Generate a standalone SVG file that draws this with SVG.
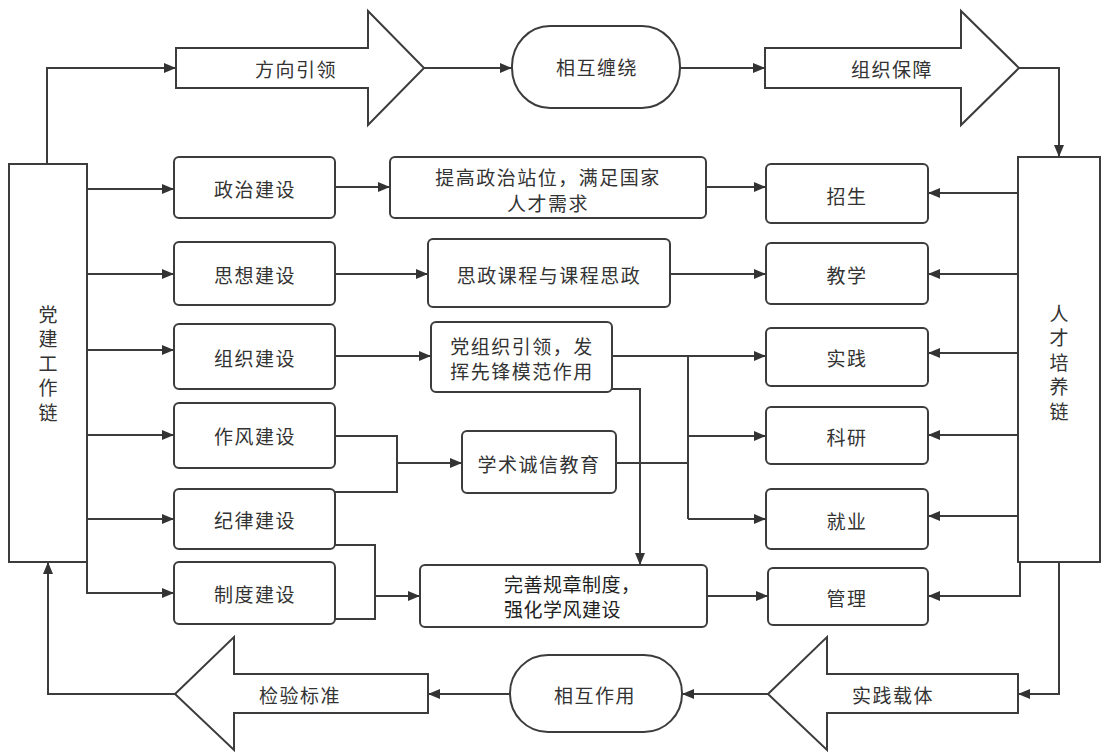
<svg xmlns="http://www.w3.org/2000/svg" width="1103" height="753" viewBox="0 0 1103 753">
<defs>
<marker id="ah" viewBox="0 0 12 10" refX="12" refY="5" markerWidth="12" markerHeight="10" markerUnits="userSpaceOnUse" orient="auto"><path d="M0,0 L12,5 L0,10 z" fill="#333"/></marker>
<style>
.box{fill:#fff;stroke:#3c3c3c;stroke-width:2}
.big{fill:#fff;stroke:#3c3c3c;stroke-width:2;stroke-linejoin:miter}
.t{font-family:"Noto Sans CJK SC","Noto Sans",sans-serif;font-size:19px;fill:#333;text-anchor:middle;dominant-baseline:central;letter-spacing:1.5px}
.v{font-family:"Noto Sans CJK SC","Noto Sans",sans-serif;font-size:19px;fill:#333;writing-mode:vertical-rl;text-anchor:start;letter-spacing:5.5px}
.tl{font-family:"Noto Sans CJK SC","Noto Sans",sans-serif;font-size:19px;fill:#222;dominant-baseline:central;letter-spacing:0.5px}
.c path{fill:none;stroke:#3c3c3c;stroke-width:2}
.a{marker-end:url(#ah)}
</style>
</defs>
<rect width="1103" height="753" fill="#fff"/>

<g class="c" id="connectors">
<path class="a" d="M47,164 V68 H176"/>
<path class="a" d="M424,68 H512"/>
<path class="a" d="M680,68 H765"/>
<path class="a" d="M1019,68 H1059 V157"/>
<path class="a" d="M1059,562 V694 H1018"/>
<path class="a" d="M768,694 H682"/>
<path class="a" d="M510,694 H428"/>
<path class="a" d="M175,694 H48 V562"/>
<path class="a" d="M87,189 H174"/>
<path class="a" d="M87,274 H174"/>
<path class="a" d="M87,350 H174"/>
<path class="a" d="M87,435 H174"/>
<path class="a" d="M87,519 H174"/>
<path class="a" d="M87,562 V593 H174"/>
<path class="a" d="M335,187 H390"/>
<path class="a" d="M335,274 H428"/>
<path class="a" d="M335,356 H431"/>
<path d="M335,436 H397 V492 H335"/>
<path class="a" d="M397,463 H462"/>
<path d="M335,545 H375 V619 H335"/>
<path class="a" d="M375,596 H420"/>
<path class="a" d="M612,389 H640 V565"/>
<path class="a" d="M612,356 H766"/>
<path d="M688,356 V519"/>
<path class="a" d="M688,436 H766"/>
<path class="a" d="M688,519 H766"/>
<path d="M616,463 H688"/>
<path class="a" d="M706,187 H766"/>
<path class="a" d="M670,274 H766"/>
<path class="a" d="M707,596 H768"/>
<path class="a" d="M1018,193 H928"/>
<path class="a" d="M1018,274 H928"/>
<path class="a" d="M1018,353 H928"/>
<path class="a" d="M1018,435 H928"/>
<path class="a" d="M1018,516 H928"/>
<path class="a" d="M1020,562 V596 H928"/>
</g>

<g id="fangxiang"><polygon class="big" points="176,48 368,48 368,11 424,68 368,125 368,88 176,88"/><text class="t" x="296" y="68">方向引领</text></g>
<g id="xianghu-chanrao"><rect class="box" x="512" y="26" width="168" height="82" rx="38" ry="40"/><text class="t" x="597" y="66">相互缠绕</text></g>
<g id="zuzhi-baozhang"><polygon class="big" points="765,48 961,48 961,11 1019,68 961,125 961,88 765,88"/><text class="t" x="892" y="68">组织保障</text></g>

<g id="dangjian"><rect class="box" x="9" y="164" width="78" height="398"/>
<text class="v" x="48" y="305">党建工作链</text></g>
<g id="rencai"><rect class="box" x="1018" y="157" width="82" height="405"/>
<text class="v" x="1059" y="304">人才培养链</text></g>

<g id="zhengzhi"><rect class="box" x="174" y="157" width="161" height="61" rx="5"/><text class="t" x="255" y="188">政治建设</text></g>
<g id="sixiang"><rect class="box" x="174" y="242" width="161" height="63" rx="5"/><text class="t" x="255" y="274">思想建设</text></g>
<g id="zuzhi"><rect class="box" x="174" y="324" width="161" height="65" rx="5"/><text class="t" x="255" y="357">组织建设</text></g>
<g id="zuofeng"><rect class="box" x="174" y="403" width="161" height="65" rx="5"/><text class="t" x="255" y="435">作风建设</text></g>
<g id="jilv"><rect class="box" x="174" y="489" width="161" height="60" rx="5"/><text class="t" x="255" y="519">纪律建设</text></g>
<g id="zhidu"><rect class="box" x="174" y="562" width="161" height="62" rx="5"/><text class="t" x="255" y="593">制度建设</text></g>

<g id="tigao"><rect class="box" x="390" y="157" width="316" height="61" rx="5"/><text class="t" x="548" y="176">提高政治站位，满足国家</text><text class="t" x="548" y="202">人才需求</text></g>
<g id="sizheng"><rect class="box" x="428" y="239" width="242" height="68" rx="5"/><text class="t" x="549" y="274">思政课程与课程思政</text></g>
<g id="dangzuzhi"><rect class="box" x="431" y="322" width="181" height="70" rx="5"/><text class="t" x="522" y="345">党组织引领，发</text><text class="t" x="522" y="370">挥先锋模范作用</text></g>
<g id="xueshu"><rect class="box" x="462" y="431" width="154" height="62" rx="5"/><text class="t" x="539" y="463">学术诚信教育</text></g>
<g id="wanshan"><rect class="box" x="420" y="565" width="287" height="62" rx="5"/><text class="tl" x="504" y="583">完善规章制度，</text><text class="tl" x="504" y="608">强化学风建设</text></g>

<g id="zhaosheng"><rect class="box" x="766" y="164" width="162" height="59" rx="5"/><text class="t" x="847" y="195">招生</text></g>
<g id="jiaoxue"><rect class="box" x="766" y="243" width="162" height="61" rx="5"/><text class="t" x="847" y="274">教学</text></g>
<g id="shijian"><rect class="box" x="766" y="328" width="162" height="58" rx="5"/><text class="t" x="847" y="357">实践</text></g>
<g id="keyan"><rect class="box" x="766" y="407" width="162" height="57" rx="5"/><text class="t" x="847" y="436">科研</text></g>
<g id="jiuye"><rect class="box" x="766" y="489" width="162" height="60" rx="5"/><text class="t" x="847" y="520">就业</text></g>
<g id="guanli"><rect class="box" x="768" y="568" width="160" height="57" rx="5"/><text class="t" x="847" y="597">管理</text></g>

<g id="shijian-zaiti"><polygon class="big" points="1018,674 827,674 827,637 768,694 827,750 827,713 1018,713"/><text class="t" x="893" y="694">实践载体</text></g>
<g id="xianghu-zuoyong"><rect class="box" x="510" y="655" width="172" height="77" rx="38" ry="38"/><text class="t" x="595" y="694">相互作用</text></g>
<g id="jianyan"><polygon class="big" points="428,674 234,674 234,637 175,694 234,750 234,713 428,713"/><text class="t" x="300" y="694">检验标准</text></g>
</svg>
